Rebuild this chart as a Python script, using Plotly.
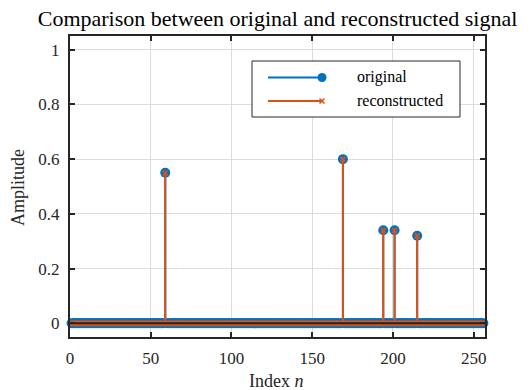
import plotly.graph_objects as go

# ---- data ----
n_points = 256
spike_index = [59, 169, 194, 201, 215]
spike_original = [0.55, 0.60, 0.34, 0.34, 0.32]
spike_reconstructed = [0.55, 0.60, 0.34, 0.34, 0.32]
x_ticks = [0, 50, 100, 150, 200, 250]
y_ticks = [0, 0.2, 0.4, 0.6, 0.8, 1]
y_tick_labels = ["0", "0.2", "0.4", "0.6", "0.8", "1"]

index = list(range(1, n_points + 1))
orig_map = dict(zip(spike_index, spike_original))
rec_map = dict(zip(spike_index, spike_reconstructed))
original = [orig_map.get(i, 0.0) for i in index]
reconstructed = [rec_map.get(i, 0.0) for i in index]

BLUE = "#0072BD"
ORANGE = "#D95319"
DARK = "#262626"
GRID = "#dcdcdc"
FONT = "Liberation Serif, Times New Roman, serif"

W, H = 531, 390
ML, MR, MT, MB = 70, 46, 36, 53
PW, PH = W - ML - MR, H - MT - MB


def px(xp):
    return (xp - ML) / PW


def py(yp):
    return (H - MB - yp) / PH


def stems(xs, ys):
    sx, sy = [], []
    for a, b in zip(xs, ys):
        sx += [a, a, None]
        sy += [0, b, None]
    return sx, sy


fig = go.Figure()

ox, oy = stems(index, original)
fig.add_trace(go.Scatter(x=ox, y=oy, mode="lines", line=dict(color=BLUE, width=2),
                         hoverinfo="skip", showlegend=False))
fig.add_trace(go.Scatter(x=index, y=original, mode="markers",
                         marker=dict(symbol="circle", size=10, color=BLUE, line=dict(width=0)),
                         cliponaxis=False, showlegend=False, name="original"))
rx, ry = stems(index, reconstructed)
fig.add_trace(go.Scatter(x=rx, y=ry, mode="lines", line=dict(color=ORANGE, width=2),
                         hoverinfo="skip", showlegend=False))
fig.add_trace(go.Scatter(x=index, y=reconstructed, mode="markers",
                         marker=dict(symbol="x-thin", size=5, line=dict(color=ORANGE, width=1.8)),
                         cliponaxis=False, showlegend=False, name="reconstructed"))

shapes = []
# baseline
shapes.append(dict(type="line", xref="paper", yref="y", x0=0, x1=1, y0=0, y1=0,
                   line=dict(color=DARK, width=2), layer="above"))
# legend box
shapes.append(dict(type="rect", xref="paper", yref="paper", x0=px(252), x1=px(460),
                   y0=py(117), y1=py(61), line=dict(color=DARK, width=1),
                   fillcolor="white", layer="above"))
shapes.append(dict(type="line", xref="paper", yref="paper", x0=px(268), x1=px(322),
                   y0=py(77.5), y1=py(77.5), line=dict(color=BLUE, width=2), layer="above"))
shapes.append(dict(type="circle", xref="paper", yref="paper", x0=px(322 - 4.5), x1=px(322 + 4.5),
                   y0=py(77.5 + 4.5), y1=py(77.5 - 4.5), line=dict(color=BLUE, width=0),
                   fillcolor=BLUE, layer="above"))
shapes.append(dict(type="line", xref="paper", yref="paper", x0=px(268), x1=px(322),
                   y0=py(101), y1=py(101), line=dict(color=ORANGE, width=2), layer="above"))
for d in (1, -1):
    shapes.append(dict(type="line", xref="paper", yref="paper", x0=px(322 - 2.5), x1=px(322 + 2.5),
                       y0=py(101 - 2.5 * d), y1=py(101 + 2.5 * d),
                       line=dict(color=ORANGE, width=1.6), layer="above"))

annotations = [
    dict(text="original", xref="paper", yref="paper", x=px(355), y=py(77.5),
         xanchor="left", yanchor="middle", showarrow=False,
         font=dict(family=FONT, size=16, color="black")),
    dict(text="reconstructed", xref="paper", yref="paper", x=px(355), y=py(101),
         xanchor="left", yanchor="middle", showarrow=False,
         font=dict(family=FONT, size=16, color="black")),
    dict(text="Amplitude", xref="paper", yref="paper", x=px(18), y=py(187),
         xanchor="center", yanchor="middle", textangle=-90, showarrow=False,
         font=dict(family=FONT, size=18, color=DARK)),
    dict(text="Index <i>n</i>", xref="paper", yref="paper", x=px(276), y=py(381),
         xanchor="center", yanchor="middle", showarrow=False,
         font=dict(family=FONT, size=18, color=DARK)),
]

tick_font = dict(family=FONT, size=17, color=DARK)
axis_common = dict(showline=True, linecolor=DARK, linewidth=2, mirror="ticks",
                   ticks="inside", ticklen=5, tickwidth=1.5, tickcolor=DARK,
                   showgrid=True, gridcolor=GRID, gridwidth=1, zeroline=False)

fig.update_layout(
    width=W, height=H,
    margin=dict(l=ML, r=MR, t=MT, b=MB),
    paper_bgcolor="white", plot_bgcolor="white",
    font=dict(family=FONT, color=DARK, size=17),
    title=dict(text="Comparison between original and reconstructed signal",
               x=0.5, xref="paper", xanchor="center",
               y=1 - 18 / H, yref="container", yanchor="middle",
               font=dict(family=FONT, size=22, color="black")),
    xaxis=dict(range=[0, 257], tickvals=x_ticks, ticklabelstandoff=5,
               tickfont=tick_font, **axis_common),
    yaxis=dict(range=[-0.05, 1.05], tickvals=y_ticks, ticktext=y_tick_labels,
               ticklabelstandoff=5, tickfont=tick_font, **axis_common),
    shapes=shapes, annotations=annotations, showlegend=False,
)

fig.write_html("out.html")
